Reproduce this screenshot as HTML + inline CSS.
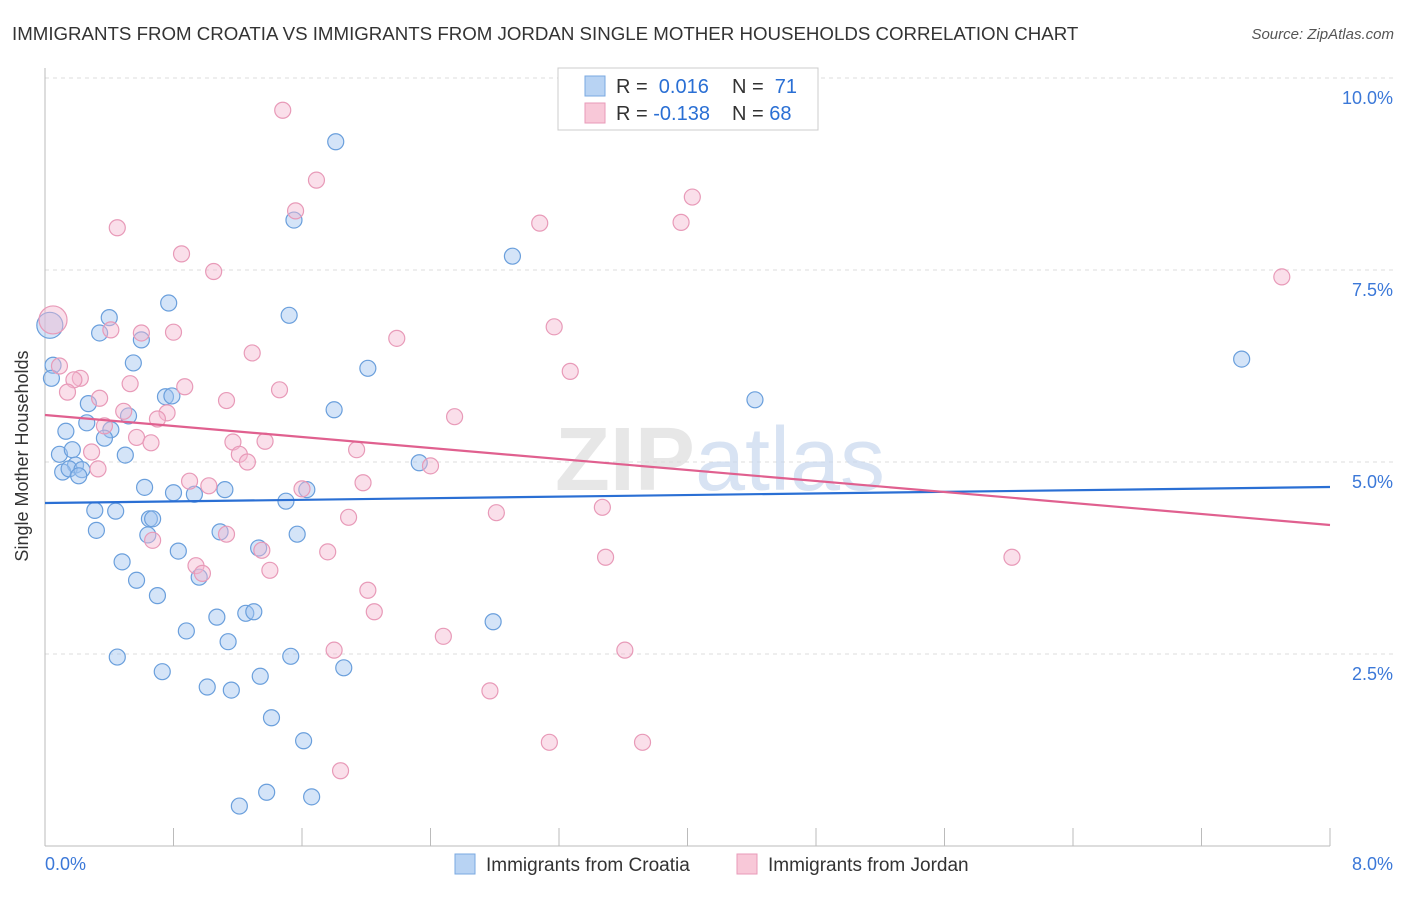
<!DOCTYPE html>
<html><head><meta charset="utf-8"><style>
body{margin:0;background:#fff;font-family:"Liberation Sans",sans-serif;}
svg text{font-family:"Liberation Sans",sans-serif;}
</style></head><body>
<svg id="chart" width="1406" height="892" xmlns="http://www.w3.org/2000/svg">
<text x="12" y="40" font-size="18.7" fill="#333">IMMIGRANTS FROM CROATIA VS IMMIGRANTS FROM JORDAN SINGLE MOTHER HOUSEHOLDS CORRELATION CHART</text>
<text x="1394" y="39" font-size="15" fill="#555" text-anchor="end" font-style="italic">Source: ZipAtlas.com</text>
<g id="grid"></g>
<text x="720" y="490" font-size="90" fill="#ddd" text-anchor="middle" font-weight="bold" opacity="0.7">ZIP<tspan fill="#c8d8ee" font-weight="normal">atlas</tspan></text>
<g id="axes"></g>
<g id="pts"></g>
<g id="lines"></g>
<text x="28" y="456" font-size="18" fill="#333" text-anchor="middle" transform="rotate(-90 28 456)">Single Mother Households</text>
<g>
<rect x="558" y="68" width="260" height="62" fill="#fff" stroke="#ccc"/>
<rect x="585" y="76" width="20" height="20" fill="#b8d3f3" stroke="#7aa8e0"/>
<rect x="585" y="103" width="20" height="20" fill="#f8c8d8" stroke="#e89ab8"/>
<text x="616" y="93" font-size="20" fill="#333">R = <tspan fill="#2a6fd4">&#160;0.016</tspan><tspan x="732">N = </tspan><tspan fill="#2a6fd4">&#160;71</tspan></text>
<text x="616" y="120" font-size="20" fill="#333">R = <tspan fill="#2a6fd4">-0.138</tspan><tspan x="732">N = </tspan><tspan fill="#2a6fd4">68</tspan></text>
</g>
<g>
<rect x="455" y="854" width="20" height="20" fill="#b8d3f3" stroke="#7aa8e0"/>
<text x="486" y="871" font-size="19" fill="#333">Immigrants from Croatia</text>
<rect x="737" y="854" width="20" height="20" fill="#f8c8d8" stroke="#e89ab8"/>
<text x="768" y="871" font-size="19" fill="#333">Immigrants from Jordan</text>
</g>
</svg>
<script>
const xTicks=[0,0.8,1.6,2.4,3.2,4,4.8,5.6,6.4,7.2,8];
const yTicks=[2.5,5,7.5,10];
const yTickLabels=["2.5%","5.0%","7.5%","10.0%"];
const croatiaX=[1.81,1.55,2.91,0.77,1.52,0.40,0.34,0.60,0.03,0.55,0.05,2.01,0.04,0.75,0.79,0.27,4.42,7.45,1.80,0.52,0.26,0.13,0.41,0.37,0.09,0.17,0.50,2.33,0.19,0.11,0.15,0.23,0.21,0.62,0.80,0.93,1.12,1.63,1.50,0.31,0.44,0.65,0.67,0.32,1.09,1.57,0.64,1.33,0.83,0.48,0.96,0.57,0.70,1.07,1.25,1.30,2.79,0.88,1.14,0.45,1.53,0.73,1.86,1.34,1.01,1.16,1.41,1.61,1.38,1.21,1.66];
const croatiaY=[9.17,8.15,7.68,7.07,6.91,6.88,6.68,6.59,6.78,6.29,6.26,6.22,6.09,5.85,5.86,5.76,5.81,6.34,5.68,5.60,5.51,5.40,5.42,5.31,5.10,5.16,5.09,4.99,4.96,4.87,4.91,4.90,4.82,4.67,4.60,4.58,4.64,4.64,4.49,4.37,4.36,4.26,4.26,4.11,4.09,4.06,4.05,3.88,3.84,3.70,3.50,3.46,3.26,2.98,3.03,3.05,2.92,2.80,2.66,2.46,2.47,2.27,2.32,2.21,2.07,2.03,1.67,1.37,0.70,0.52,0.64];
const jordanX=[1.48,1.69,4.03,1.56,0.45,3.08,3.96,0.85,1.05,7.70,0.05,3.17,0.41,0.60,0.80,2.19,1.29,0.09,3.27,0.22,0.18,0.53,0.87,0.14,1.46,0.34,1.13,0.76,0.49,0.70,2.55,0.37,0.57,1.17,0.66,1.37,1.94,1.21,0.29,1.26,2.40,0.33,0.90,1.02,1.98,1.60,3.47,2.81,1.89,0.67,1.13,1.35,1.76,3.49,6.02,0.94,1.40,0.98,2.01,2.05,2.48,1.80,3.61,2.77,3.14,3.72,1.84];
const jordanY=[9.58,8.67,8.45,8.27,8.05,8.11,8.12,7.71,7.48,7.41,6.85,6.76,6.72,6.68,6.69,6.61,6.42,6.25,6.18,6.09,6.07,6.02,5.98,5.91,5.94,5.83,5.80,5.64,5.66,5.56,5.59,5.47,5.32,5.26,5.25,5.27,5.16,5.10,5.13,5.00,4.95,4.91,4.75,4.69,4.73,4.65,4.41,4.34,4.28,3.98,4.06,3.85,3.83,3.76,3.76,3.65,3.59,3.55,3.33,3.05,2.73,2.55,2.55,2.02,1.35,1.35,0.98];
const croatiaFit=[4.466,4.674];
const jordanFit=[5.612,4.18];
const NS="http://www.w3.org/2000/svg";
const X0=45,X1=1330,Y0=846,YT=78;
const xs=v=>X0+(X1-X0)*v/8;
const ys=v=>Y0-(Y0-YT)*v/10;
function mk(tag,attrs,parent){const e=document.createElementNS(NS,tag);for(const k in attrs)e.setAttribute(k,attrs[k]);parent.appendChild(e);return e;}
const grid=document.getElementById('grid'),axes=document.getElementById('axes');
yTicks.forEach((t,i)=>{
 const l=mk('line',{x1:X0,x2:1395,y1:ys(t),y2:ys(t),stroke:'#ddd','stroke-dasharray':'4 4'},grid);
 
 
 const tx=mk('text',{x:1393,y:ys(t)+26,'font-size':18,fill:'#3b78d8','text-anchor':'end'},axes);
 tx.textContent=yTickLabels[i];
 
 
});
const ax=mk('line',{x1:X0,x2:X1,y1:Y0,y2:Y0,stroke:'#bbb'},axes);


const ay=mk('line',{x1:X0,x2:X0,y1:68,y2:Y0,stroke:'#bbb'},axes);


xTicks.forEach(t=>{
 const l=mk('line',{x1:xs(t),x2:xs(t),y1:Y0,y2:Y0-18,stroke:'#bbb'},axes);
 
 
});
const xl0=mk('text',{x:45,y:870,'font-size':18,fill:'#3b78d8'},axes);xl0.textContent='0.0%';


const xl1=mk('text',{x:1393,y:870,'font-size':18,fill:'#3b78d8','text-anchor':'end'},axes);xl1.textContent='8.0%';


const pts=document.getElementById('pts');
croatiaX.forEach((v,i)=>{
 const c=mk('circle',{cx:xs(v),cy:ys(croatiaY[i]),r:i==8?13:8,fill:'rgba(160,195,240,0.45)',stroke:'#6a9fdc','stroke-width':1.2},pts);
 
 
});
jordanX.forEach((v,i)=>{
 const c=mk('circle',{cx:xs(v),cy:ys(jordanY[i]),r:i==10?14:8,fill:'rgba(245,185,208,0.45)',stroke:'#e89ab8','stroke-width':1.2},pts);
 
 
});
const lines=document.getElementById('lines');
const lb=mk('line',{x1:xs(0),x2:xs(8),y1:ys(croatiaFit[0]),y2:ys(croatiaFit[1]),stroke:'#2a6fd4','stroke-width':2.2},lines);


const lp=mk('line',{x1:xs(0),x2:xs(8),y1:ys(jordanFit[0]),y2:ys(jordanFit[1]),stroke:'#e0608f','stroke-width':2.2},lines);


</script>
</body></html>
